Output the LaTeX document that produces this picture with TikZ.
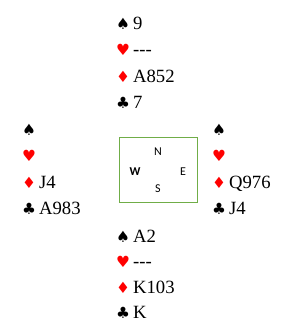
\documentclass[tikz,border=0pt]{standalone}
\usepackage{fontspec}
\setmainfont{Liberation Serif}
\newfontfamily\suitfont{DejaVu Sans}
\newfontfamily\compassfont{Carlito}
\definecolor{suitred}{RGB}{255,0,0}
\definecolor{boxgreen}{RGB}{112,173,71}
\newcommand{\SP}{{\suitfont\fontsize{15.5}{15.5}\selectfont\char"2660}}
\newcommand{\HE}{{\color{suitred}\suitfont\fontsize{15.5}{15.5}\selectfont\char"2665}}
\newcommand{\DI}{{\color{suitred}\suitfont\fontsize{15.5}{15.5}\selectfont\char"2666}}
\newcommand{\CL}{{\suitfont\fontsize{15.5}{15.5}\selectfont\char"2663}}
\newcommand{\gap}{\hspace{3pt}}
\begin{document}
\begin{tikzpicture}[x=1pt,y=-1pt,
  hand/.style={anchor=base west,inner sep=0pt,font=\fontsize{18.7}{18.7}\selectfont},
  compass/.style={inner sep=0pt,font=\compassfont\fontsize{12}{12}\selectfont},
  table/.style={draw=boxgreen,line width=0.8pt}]
\useasboundingbox (0,0) rectangle (301,335);
% North
\node[hand] (n1) at (116,29) {\SP\gap 9};
\node[hand] (n2) at (116,55) {\HE\gap {-}{-}{-}};
\node[hand] (n3) at (116,82) {\DI\gap A852};
\node[hand] (n4) at (116,108) {\CL\gap 7};
% West
\node[hand] (w1) at (22,135) {\SP};
\node[hand] (w2) at (22,161) {\HE};
\node[hand] (w3) at (22,188) {\DI\gap J4};
\node[hand] (w4) at (22,214) {\CL\gap A983};
% East
\node[hand] (e1) at (212,135) {\SP};
\node[hand] (e2) at (212,161) {\HE};
\node[hand] (e3) at (212,188) {\DI\gap Q976};
\node[hand] (e4) at (212,214) {\CL\gap J4};
% South
\node[hand] (s1) at (116,242) {\SP\gap A2};
\node[hand] (s2) at (116,267) {\HE\gap {-}{-}{-}};
\node[hand] (s3) at (116,293) {\DI\gap K103};
\node[hand] (s4) at (116,318) {\CL\gap K};
% Table
\node[table,minimum width=78pt,minimum height=65pt,inner sep=0pt] (tbl) at (158,169.5) {};
\node[compass] (cn) at (158,152) {N};
\node[compass,font=\compassfont\bfseries\fontsize{12}{12}\selectfont] (cw) at (135,172) {W};
\node[compass] (ce) at (183,172) {E};
\node[compass] (cs) at (158,189) {S};
\end{tikzpicture}
\end{document}
